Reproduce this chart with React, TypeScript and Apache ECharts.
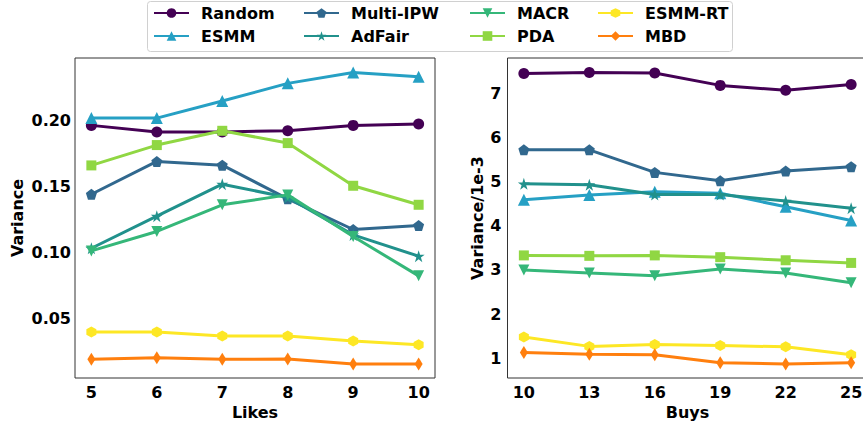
import React, { useEffect, useRef } from "react";
import * as echarts from "echarts";

const likes = [5, 6, 7, 8, 9, 10];
const buys = [10, 13, 16, 19, 22, 25];
const likesTicks = [5, 6, 7, 8, 9, 10];
const buysTicks = [10, 13, 16, 19, 22, 25];
const leftYTicks = [0.05, 0.1, 0.15, 0.2];
const rightYTicks = [1, 2, 3, 4, 5, 6, 7];

const methods = ["Random", "ESMM", "Multi-IPW", "AdFair", "MACR", "PDA", "ESMM-RT", "MBD"];

// Likes (left panel) variance
const likesRandom = [0.196, 0.191, 0.191, 0.192, 0.196, 0.197];
const likesESMM = [0.2015, 0.2015, 0.2144, 0.2278, 0.2361, 0.2328];
const likesMultiIPW = [0.1439, 0.1687, 0.1659, 0.1404, 0.1172, 0.1202];
const likesAdFair = [0.103, 0.1273, 0.1515, 0.1414, 0.1131, 0.097];
const likesMACR = [0.101, 0.1157, 0.1359, 0.1434, 0.1119, 0.0821];
const likesPDA = [0.1657, 0.1811, 0.1919, 0.1826, 0.1503, 0.1359];
const likesESMMRT = [0.0396, 0.0396, 0.0366, 0.0366, 0.0328, 0.03];
const likesMBD = [0.0189, 0.0202, 0.0189, 0.0192, 0.0154, 0.0154];

// Buys (right panel) variance / 1e-3
const buysRandom = [7.45, 7.47, 7.46, 7.18, 7.07, 7.2];
const buysESMM = [4.59, 4.7, 4.77, 4.74, 4.43, 4.12];
const buysMultiIPW = [5.72, 5.72, 5.21, 5.02, 5.24, 5.34];
const buysAdFair = [4.95, 4.93, 4.71, 4.71, 4.56, 4.4];
const buysMACR = [3.0, 2.93, 2.87, 3.02, 2.93, 2.71];
const buysPDA = [3.33, 3.32, 3.33, 3.29, 3.22, 3.16];
const buysESMMRT = [1.48, 1.27, 1.31, 1.29, 1.26, 1.08];
const buysMBD = [1.13, 1.09, 1.08, 0.9, 0.87, 0.9];

const likesData = [likesRandom, likesESMM, likesMultiIPW, likesAdFair, likesMACR, likesPDA, likesESMMRT, likesMBD];
const buysData = [buysRandom, buysESMM, buysMultiIPW, buysAdFair, buysMACR, buysPDA, buysESMMRT, buysMBD];

const colors = ["#440154", "#26a0c4", "#31688e", "#21918c", "#35b779", "#90d743", "#fde725", "#ff7f0e"];

const PENTAGON = "path://M50,0 L97.55,34.55 L79.39,90.45 L20.61,90.45 L2.45,34.55 Z";
const STAR =
  "path://M50,0 L61.23,34.55 L97.55,34.55 L68.17,55.9 L79.39,90.45 L50,69.1 L20.61,90.45 L31.83,55.9 L2.45,34.55 L38.77,34.55 Z";
const TRI_DOWN = "path://M0,0 L100,0 L50,87 Z";
const HEXAGON = "path://M50,0 L93.3,25 L93.3,75 L50,100 L6.7,75 L6.7,25 Z";

const symbols: any[] = ["circle", "triangle", PENTAGON, STAR, TRI_DOWN, "rect", HEXAGON, "diamond"];
const symbolSizes: any[] = [11, 12, 11, 12, 11, 10, [10, 11], [8, 13]];

const FONT = "DejaVu Sans";

export default function App() {
  const ref = useRef<HTMLDivElement>(null);
  useEffect(() => {
    if (!ref.current) return;
    const chart = echarts.init(ref.current, undefined, { renderer: "svg" });

    const series: any[] = [];
    methods.forEach((m, i) => {
      [0, 1].forEach((g) => {
        const xs = g === 0 ? likes : buys;
        const ys = g === 0 ? likesData[i] : buysData[i];
        series.push({
          name: m,
          type: "line",
          xAxisIndex: g,
          yAxisIndex: g,
          data: xs.map((x, k) => [x, ys[k]]),
          symbol: symbols[i],
          symbolSize: symbolSizes[i],
          showAllSymbol: true,
          lineStyle: { width: 3, color: colors[i] },
          itemStyle: { color: colors[i] },
          z: 2 + i,
          emphasis: { disabled: true },
        });
      });
    });

    const legendCols = [
      ["Random", "ESMM"],
      ["Multi-IPW", "AdFair"],
      ["MACR", "PDA"],
      ["ESMM-RT", "MBD"],
    ];
    const legendLefts = [153, 303, 469, 597];
    const legends = legendCols.map((d, i) => ({
      data: d,
      orient: "vertical",
      left: legendLefts[i],
      top: 5,
      padding: 0,
      itemGap: 7,
      itemWidth: 35,
      itemHeight: 12,
      selectedMode: false,
      textStyle: {
        fontFamily: FONT,
        fontWeight: "bold",
        fontSize: 16,
        color: "#000",
        lineHeight: 16,
        padding: [0, 0, 0, 7],
      },
    }));

    const axisLabelStyle = {
      fontFamily: FONT,
      fontWeight: "bold",
      fontSize: 16,
      color: "#000",
    };
    const nameStyle = {
      fontFamily: FONT,
      fontWeight: "bold",
      fontSize: 16,
      color: "#000",
    };

    chart.setOption({
      animation: false,
      backgroundColor: "#fff",
      graphic: [
        {
          type: "rect",
          shape: { x: 147.5, y: 1.5, width: 585, height: 50, r: 3 },
          style: { fill: "#fff", stroke: "#d0d0d0", lineWidth: 1 },
          z: -1,
        },
      ],
      legend: legends,
      grid: [
        { left: 75, top: 58, width: 360, height: 320, show: true, borderColor: "#333", borderWidth: 1, backgroundColor: "transparent", outerBoundsMode: "none", containLabel: false },
        { left: 507.5, top: 58, width: 360, height: 320, show: true, borderColor: "#333", borderWidth: 1, backgroundColor: "transparent", outerBoundsMode: "none", containLabel: false },
      ],
      xAxis: [
        {
          type: "value",
          gridIndex: 0,
          min: 4.75,
          max: 10.25,
          name: "Likes",
          nameLocation: "middle",
          nameGap: 24,
          nameTextStyle: nameStyle,
          axisLine: { show: false },
          axisTick: { show: false },
          splitLine: { show: false },
          axisLabel: { ...axisLabelStyle, margin: 6, customValues: likesTicks },
        },
        {
          type: "value",
          gridIndex: 1,
          min: 9.25,
          max: 25.75,
          name: "Buys",
          nameLocation: "middle",
          nameGap: 24,
          nameTextStyle: nameStyle,
          axisLine: { show: false },
          axisTick: { show: false },
          splitLine: { show: false },
          axisLabel: { ...axisLabelStyle, margin: 6, customValues: buysTicks },
        },
      ],
      yAxis: [
        {
          type: "value",
          gridIndex: 0,
          min: 0.0048,
          max: 0.247,
          name: "Variance",
          nameLocation: "middle",
          nameGap: 50,
          nameTextStyle: nameStyle,
          axisLine: { show: false },
          axisTick: { show: false },
          splitLine: { show: false },
          axisLabel: {
            ...axisLabelStyle,
            margin: 4,
            customValues: leftYTicks,
            formatter: (v: number) => v.toFixed(2),
          },
        },
        {
          type: "value",
          gridIndex: 1,
          min: 0.554,
          max: 7.8,
          name: "Variance/1e-3",
          nameLocation: "middle",
          nameGap: 22,
          nameTextStyle: nameStyle,
          axisLine: { show: false },
          axisTick: { show: false },
          splitLine: { show: false },
          axisLabel: {
            ...axisLabelStyle,
            margin: 6,
            customValues: rightYTicks,
            formatter: (v: number) => String(Math.round(v)),
          },
        },
      ],
      series,
    });

    return () => chart.dispose();
  }, []);

  return (
    <div
      ref={ref}
      style={{ position: "fixed", left: 0, top: 0, width: 863, height: 421, background: "#fff" }}
    />
  );
}
